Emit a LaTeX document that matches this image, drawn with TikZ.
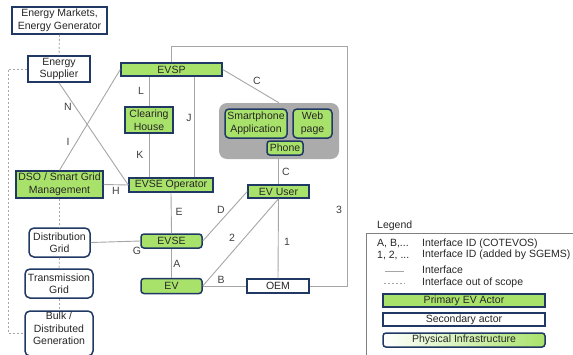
\documentclass[tikz,border=0pt]{standalone}
\usepackage{fontspec}
\setmainfont{Liberation Sans}
\definecolor{navy}{HTML}{1F3864}
\definecolor{evgreen}{HTML}{A9E26B}
\definecolor{lgrey}{HTML}{A6A6A6}
\definecolor{grpgrey}{HTML}{ABABAB}
\definecolor{txt}{HTML}{262626}
\definecolor{lbl}{HTML}{404040}
\begin{document}
\begin{tikzpicture}[x=1pt,y=-1pt, font=\fontsize{10.5}{12.5}\selectfont,
 box/.style={draw=navy, line width=1.5pt, inner sep=0pt, align=center, text=txt},
 prim/.style={box, fill=evgreen},
 sec/.style={box, fill=white},
 phys/.style={box, fill=evgreen, rounded corners=3pt},
 secr/.style={box, fill=white, rounded corners=5pt},
 conn/.style={draw=lgrey, line width=0.9pt},
 oos/.style={draw=lgrey, line width=0.9pt, dash pattern=on 2pt off 2pt},
 lab/.style={text=lbl, inner sep=0pt},
 legtxt/.style={text=txt, inner sep=0pt, anchor=west}]
\useasboundingbox (0,0) rectangle (573,354);
\clip (0,0) rectangle (573,354);
% group
\node[fill=grpgrey, rounded corners=8pt, minimum width=120pt, minimum height=56pt, inner sep=0pt] (grp) at (279,131) {};
% nodes
\node[sec, minimum width=95pt, minimum height=27pt] (em) at (59.5,20.5) {Energy Markets,\\Energy Generator};
\node[sec, minimum width=62pt, minimum height=26pt] (es) at (59,69) {Energy\\Supplier};
\node[prim, minimum width=101pt, minimum height=13pt] (evsp) at (171.5,69.5) {EVSP};
\node[prim, minimum width=48pt, minimum height=26pt] (ch) at (149,120) {Clearing\\House};
\node[prim, minimum width=84pt, minimum height=14pt] (evseop) at (171,185) {EVSE Operator};
\node[prim, rounded corners=4pt, minimum width=62pt, minimum height=29pt] (sa) at (256,123.5) {Smartphone\\Application};
\node[prim, rounded corners=4pt, minimum width=39pt, minimum height=29pt] (wp) at (312.5,123.5) {Web\\page};
\node[prim, rounded corners=3pt, minimum width=36pt, minimum height=14pt] (phone) at (285,148) {Phone};
\node[prim, minimum width=61pt, minimum height=13pt] (evuser) at (278.5,191.5) {EV User};
\node[prim, minimum width=87pt, minimum height=27pt] (dso) at (59.5,184.5) {DSO / Smart Grid\\Management};
\node[phys, minimum width=61pt, minimum height=14pt] (evse) at (171.5,241) {EVSE};
\node[secr, minimum width=61pt, minimum height=29pt] (dg) at (59.5,242.5) {Distribution\\Grid};
\node[secr, minimum width=68pt, minimum height=29pt] (tg) at (59,283.5) {Transmission\\Grid};
\node[secr, minimum width=68pt, minimum height=45pt, text depth=10pt] (bulk) at (59,333.5) {Bulk /\\Distributed\\Generation};
\node[phys, minimum width=61pt, minimum height=15pt] (ev) at (171.5,286) {EV};
\node[sec, minimum width=62pt, minimum height=14pt] (oem) at (278,286) {OEM};
% out of scope
\draw[oos] (em.south) -- (es.north);
\draw[oos] (es.west) -| (8,333) -- (bulk.west |- 0,333);
\draw[oos] (dso.south) -- (dg.north);
\draw[oos] (dg.south) -- (tg.north);
\draw[oos] (tg.south) -- (bulk.north);
% interfaces
\draw[conn] (es.south) -- (evseop.west);
\draw[conn] (dso.north) -- (evsp.west);
\draw[conn] (dso.east) -- (evseop.west);
\draw[conn] (evsp.south -| ch.north) -- (ch.north);
\draw[conn] (ch.south) -- (evseop.north -| ch.south);
\draw[conn] (evsp.south -| 194,0) -- (evseop.north -| 194,0);
\draw[conn] (evsp.east) -- (grp.north);
\draw[conn] (evuser.north |- grp.south) -- (evuser.north);
\draw[conn] (evsp.north) |- (347,46) |- (oem.east);
\draw[conn] (evseop.south) -- (evse.north);
\draw[conn] (evse.south) -- (ev.north);
\draw[conn] (evse.east) -- (evuser.west);
\draw[conn] (ev.east) -- (evuser.south);
\draw[conn] (evuser.south) -- (oem.north);
\draw[conn] (ev.east) -- (oem.west);
\draw[conn] (dg.east) -- (evse.west);
% labels
\node[lab] (lN) at (68,107) {N};
\node[lab] (lI) at (68,142) {I};
\node[lab] (lH) at (116,191) {H};
\node[lab] (lL) at (141,91) {L};
\node[lab] (lK) at (140,155) {K};
\node[lab] (lJ) at (189,118) {J};
\node[lab] (lC1) at (257,81) {C};
\node[lab] (lC2) at (286,172) {C};
\node[lab] (l3) at (339,210) {3};
\node[lab] (lE) at (179,212) {E};
\node[lab] (lD) at (221,210) {D};
\node[lab] (l2) at (232,238) {2};
\node[lab] (l1) at (287,242) {1};
\node[lab] (lB) at (221,280) {B};
\node[lab] (lA) at (177,264) {A};
\node[lab] (lG) at (137,251) {G};
% legend
\node[legtxt] (legt) at (377,226) {Legend};
\draw[draw=gray, line width=0.8pt] (366,233) rectangle (600,400);
\node[legtxt] (la1) at (377,244) {A, B,...};
\node[legtxt] (la2) at (422,244) {Interface ID (COTEVOS)};
\node[legtxt] (lb1) at (377,255) {1, 2, ...};
\node[legtxt] (lb2) at (422,255) {Interface ID (added by SGEMS)};
\coordinate (li1) at (385,271);
\coordinate (li2) at (404,271);
\draw[conn] (li1) -- (li2);
\node[legtxt] (lc) at (422,270) {Interface};
\coordinate (lo1) at (384,283);
\coordinate (lo2) at (405,283);
\draw[oos] (lo1) -- (lo2);
\node[legtxt] (ld) at (422,283) {Interface out of scope};
\node[prim, minimum width=162pt, minimum height=13pt] (lp) at (464,300.5) {Primary EV Actor};
\node[sec, minimum width=162pt, minimum height=13pt] (ls) at (464,319.5) {Secondary actor};
\node[box, rounded corners=3pt, left color=white, right color=evgreen, minimum width=162pt, minimum height=14pt] (lf) at (464,340) {Physical Infrastructure};
\end{tikzpicture}
\end{document}
